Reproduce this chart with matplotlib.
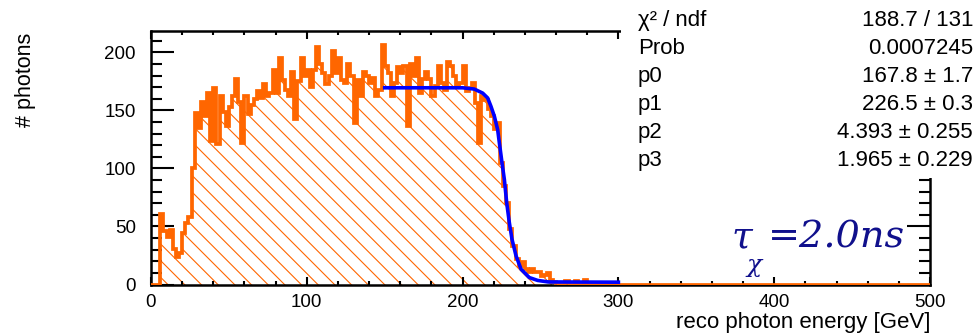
import matplotlib
matplotlib.use("Agg")
import matplotlib.pyplot as plt
import numpy as np
from matplotlib.patches import Rectangle
from matplotlib.ticker import MultipleLocator

plt.rcParams['font.family'] = ['Liberation Sans', 'DejaVu Sans']
plt.rcParams['hatch.linewidth'] = 0.8

# histogram: 2 GeV bins from 0 to 500 GeV
bin_width = 2.0
counts = [
    0, 0, 0, 61, 46, 41, 47, 31, 24, 27,
    44, 53, 58, 100, 148, 135, 157, 145, 165, 124,
    169, 121, 162, 149, 137, 153, 162, 177, 157, 122,
    162, 147, 155, 160, 167, 161, 173, 162, 165, 185,
    165, 195, 176, 168, 162, 183, 143, 175, 195, 180,
    185, 170, 185, 205, 190, 182, 173, 180, 201, 182,
    195, 176, 174, 190, 180, 139, 176, 162, 183, 180,
    174, 178, 162, 168, 206, 188, 182, 162, 174, 187,
    182, 188, 137, 190, 180, 195, 165, 177, 183, 177,
    162, 171, 188, 174, 168, 192, 188, 180, 171, 174,
    188, 167, 169, 174, 156, 122, 162, 159, 151, 145,
    134, 139, 105, 85, 70, 48, 33, 22, 16, 19,
    13, 11, 13, 11, 11, 7, 8, 10, 4, 2,
    1, 0, 0, 3, 0, 0, 3, 0, 0, 4,
]
counts = counts + [0] * (250 - len(counts))

# fit curve as drawn (blue line)
fit_x = [150, 200, 207.5, 212.9, 216.1, 218.2, 220.4, 222.5, 223.6, 225.3,
         226.8, 228.3, 230.0, 231.7, 234.3, 237.5, 242.8, 248.2, 255, 300]
fit_y = [169.5, 169.5, 168.4, 164.9, 160.7, 153.5, 144.9, 133.4, 122.0, 104.8,
         90.5, 70.5, 53.3, 39.0, 24.7, 13.2, 6.0, 3.5, 2.2, 2.0]

stat_names = ['χ² / ndf', 'Prob', 'p0', 'p1', 'p2', 'p3']
stat_values = ['188.7 / 131', '0.0007245', '167.8 ± 1.7', '226.5 ± 0.3',
               '4.393 ± 0.255', '1.965 ± 0.229']

orange = '#ff6600'
navy = '#10108c'
W, H = 980, 335

fig = plt.figure(figsize=(9.8, 3.35), dpi=100)
ax = fig.add_axes([151 / W, 1 - 284.5 / H, (930 - 151) / W, (284.5 - 31.5) / H])

edges = np.arange(len(counts) + 1) * bin_width
vals = np.array(counts, dtype=float)
ax.fill_between(edges, np.append(vals, vals[-1]), step='post', facecolor='none',
                edgecolor=orange, hatch='\\\\', linewidth=0, zorder=1)
ax.stairs(vals, edges, color=orange, linewidth=2.7, zorder=3)
ax.plot(fit_x, fit_y, color='#0000ff', linewidth=2.6, zorder=4)

ax.set_xlim(0, 500)
ax.set_ylim(0, 218)
ax.xaxis.set_major_locator(MultipleLocator(100))
ax.xaxis.set_minor_locator(MultipleLocator(20))
ax.yaxis.set_major_locator(MultipleLocator(50))
ax.yaxis.set_minor_locator(MultipleLocator(10))
ax.tick_params(which='both', direction='in', top=True, right=True, width=1.5,
               labelsize=13.5)
ax.tick_params(axis='y', which='major', length=16.5, pad=11)
ax.tick_params(axis='y', which='minor', length=8)
ax.tick_params(axis='x', which='major', length=5.5, pad=7)
ax.tick_params(axis='x', which='minor', length=2.8)
for sp in ax.spines.values():
    sp.set_linewidth(1.8)

fig.text(25 / W, 1 - 33 / H, '# photons', rotation=90, ha='center', va='top',
         fontsize=15.5)
fig.text(930 / W, 1 - 328 / H, 'reco photon energy [GeV]', ha='right',
         va='baseline', fontsize=16)

# stats box
fig.add_artist(Rectangle((621 / W, 1 - 178 / H), 1 - 621 / W, 178 / H,
                         transform=fig.transFigure, facecolor='white',
                         edgecolor='none', zorder=5))
row_base = [26, 54, 82, 110, 138, 166]
for name, value, y in zip(stat_names, stat_values, row_base):
    fig.text(638 / W, 1 - y / H, name, ha='left', va='baseline',
             fontsize=16, zorder=6)
    fig.text(973 / W, 1 - y / H, value, ha='right', va='baseline',
             fontsize=16, zorder=6)

# lifetime label
fig.text(732 / W, 1 - 247 / H, 'τ', family='DejaVu Serif', style='italic',
         fontsize=27, color=navy, ha='left', va='baseline')
fig.text(746 / W, 1 - 272 / H, 'χ', family='DejaVu Serif', style='italic',
         fontsize=18, color=navy, ha='left', va='baseline')
fig.text(905 / W, 1 - 247 / H, '=2.0ns', family='DejaVu Serif', style='italic',
         fontsize=27.5, color=navy, ha='right', va='baseline')

fig.savefig('out.png', dpi=100)
